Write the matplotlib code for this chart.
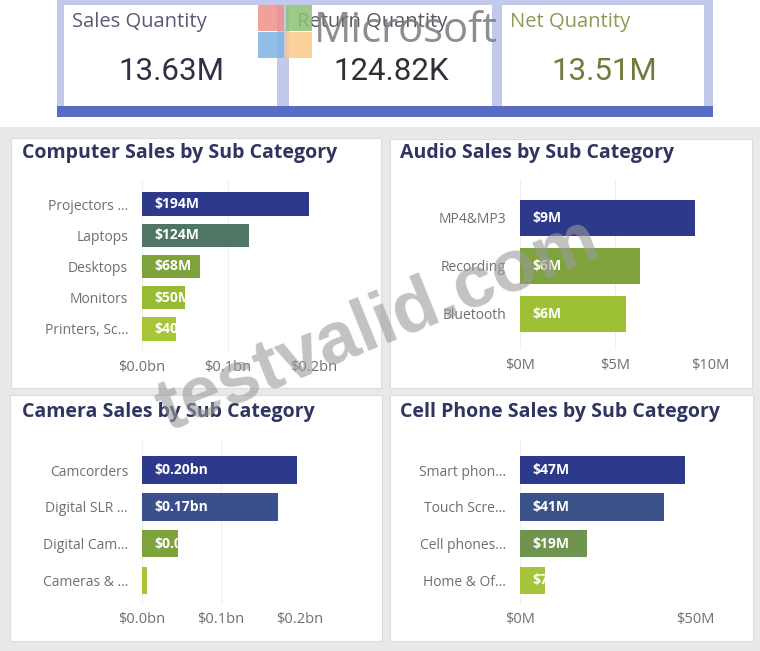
import matplotlib
matplotlib.use("Agg")
import matplotlib.pyplot as plt
import matplotlib.transforms as mtransforms
from matplotlib.patches import Rectangle

# KPI cards
kpi_titles = ["Sales Quantity", "Return Quantity", "Net Quantity"]
kpi_values = ["13.63M", "124.82K", "13.51M"]

# Computer sales ($M)
computer_cats = ["Projectors ...", "Laptops", "Desktops", "Monitors", "Printers, Sc..."]
computer_vals = [194, 124, 68, 50, 40]

# Audio sales ($M)
audio_cats = ["MP4&MP3", "Recording", "Bluetooth"]
audio_vals = [9.2, 6.3, 5.6]

# Camera sales ($M)
camera_cats = ["Camcorders", "Digital SLR ...", "Digital Cam...", "Cameras & ..."]
camera_vals = [196, 172, 46, 6]

# Cell phone sales ($M)
cell_cats = ["Smart phon...", "Touch Scre...", "Cell phones...", "Home & Of..."]
cell_vals = [47, 41, 19, 7]

W, H = 760, 651
FONT = ["Open Sans", "DejaVu Sans"]
plt.rcParams["font.family"] = FONT

fig = plt.figure(figsize=(W / 100, H / 100), dpi=100)
fig.patch.set_facecolor("white")


def px_rect(x0, y0, x1, y1):
    return [x0 / W, 1 - y1 / H, (x1 - x0) / W, (y1 - y0) / H]


# background layer in pixel coords
bg = fig.add_axes([0, 0, 1, 1], zorder=0)
bg.set_xlim(0, W)
bg.set_ylim(H, 0)
bg.axis("off")

bg.add_patch(Rectangle((0, 127), W, H - 127, color="#e9e9eb", lw=0))
# KPI frame
bg.add_patch(Rectangle((57, 0), 656, 117, color="#c3c9ea", lw=0))
bg.add_patch(Rectangle((57, 106), 656, 11, color="#5a6bc6", lw=0))
cards = [(64, 277), (289, 492), (502, 704)]
for x0, x1 in cards:
    bg.add_patch(Rectangle((x0, 5), x1 - x0, 101, color="white", lw=0))

kpi_title_colors = ["#5a5a78", "#5a5a66", "#8a9a58"]
kpi_value_colors = ["#2f3046", "#2f3036", "#6d7c3a"]
for (x0, x1), t, v, tc, vc in zip(cards, kpi_titles, kpi_values,
                                  kpi_title_colors, kpi_value_colors):
    bg.text(x0 + 8, 22, t, fontsize=14.5, color=tc, va="center", ha="left")
    bg.text((x0 + x1) / 2 + 1, 72, v, fontsize=22.5, color=vc, va="center",
            ha="center", family=["Roboto", "DejaVu Sans"])

# panels
panels = [(11, 138, 381, 388), (390, 139, 752, 388),
          (10, 395, 382, 641), (390, 395, 753, 641)]
for x0, y0, x1, y1 in panels:
    bg.add_patch(Rectangle((x0, y0), x1 - x0, y1 - y0, facecolor="white",
                           edgecolor="#dcdcdc", lw=0.8))

titles = ["Computer Sales by Sub Category", "Audio Sales by Sub Category",
          "Camera Sales by Sub Category", "Cell Phone Sales by Sub Category"]
title_pos = [(22, 153), (400, 153), (22, 412), (400, 412)]
for t, (x, y) in zip(titles, title_pos):
    bg.text(x, y, t, fontsize=14, fontweight="bold", color="#2f3560",
            va="center", ha="left")


def bar_panel(rect, cats, vals, colors, xmax, ticks, ticklabels, ylim, fmt):
    ax = fig.add_axes(px_rect(*rect), zorder=2)
    ax.patch.set_alpha(0)
    y = list(range(len(cats)))
    bars = ax.barh(y, vals, height=0.75, color=colors, zorder=2)
    ax.set_xlim(0, xmax)
    ax.set_ylim(*ylim)
    ax.set_yticks(y, cats)
    ax.set_xticks(ticks, ticklabels)
    ax.tick_params(length=0, labelcolor="#6f6f6f")
    ax.tick_params(axis="y", pad=10, labelsize=10)
    ax.tick_params(axis="x", pad=6, labelsize=10.5)
    for s in ax.spines.values():
        s.set_visible(False)
    ax.grid(axis="x", color="#f0f0f0", lw=0.9, zorder=0)
    off = mtransforms.offset_copy(ax.transData, fig=fig, x=12, y=0, units="dots")
    for b, yy, v in zip(bars, y, vals):
        txt = ax.text(0, yy, fmt(v), transform=off, color="white",
                      fontsize=10, fontweight="bold", va="center", ha="left",
                      zorder=3)
        txt.set_clip_path(b)
    return ax


fmt_m = lambda v: f"${v:.0f}M"
fmt_bn = lambda v: f"${v / 1000:.2f}bn"

bar_panel((142, 180, 314, 352), computer_cats, computer_vals,
          ["#2d3a8c", "#4f7565", "#7ea33b", "#97bb33", "#a7c536"],
          200, [0, 100, 200], ["$0.0bn", "$0.1bn", "$0.2bn"],
          (4.74, -0.77), fmt_m)

bar_panel((520, 180, 710, 350), audio_cats, audio_vals,
          ["#2d3a8c", "#7ea33d", "#9dc034"],
          10, [0, 5, 10], ["$0M", "$5M", "$10M"],
          (2.75, -0.79), fmt_m)

bar_panel((142, 440, 300, 604), camera_cats, camera_vals,
          ["#2d3a8c", "#3b4f8c", "#7ea33d", "#a7c536"],
          200, [0, 100, 200], ["$0.0bn", "$0.1bn", "$0.2bn"],
          (3.64, -0.82), fmt_bn)

bar_panel((520, 440, 695, 604), cell_cats, cell_vals,
          ["#2d3a8c", "#3b5288", "#6f9450", "#a5c43a"],
          50, [0, 50], ["$0M", "$50M"],
          (3.64, -0.82), fmt_m)

# overlay watermarks seen on the screenshot
top = fig.add_axes([0, 0, 1, 1], zorder=5)
top.set_xlim(0, W)
top.set_ylim(H, 0)
top.axis("off")
top.text(314, 31, "Microsoft", fontsize=30, color="#7a7a7a", alpha=0.85,
         va="center", ha="left", family=["Open Sans", "DejaVu Sans"])
sq = [(258, 5, "#f08f88"), (286, 5, "#8dc174"),
      (258, 32, "#80b3e2"), (286, 32, "#fbc98a")]
for x, yy, c in sq:
    top.add_patch(Rectangle((x, yy), 26, 26, color=c, alpha=0.85, lw=0))
top.text(378, 325, "testvalid.com", fontsize=53, fontweight="bold",
         color="#9a9a9a", alpha=0.6, rotation=22, va="center", ha="center",
         family=["Liberation Sans", "DejaVu Sans"])

fig.savefig("out.png", dpi=100)
